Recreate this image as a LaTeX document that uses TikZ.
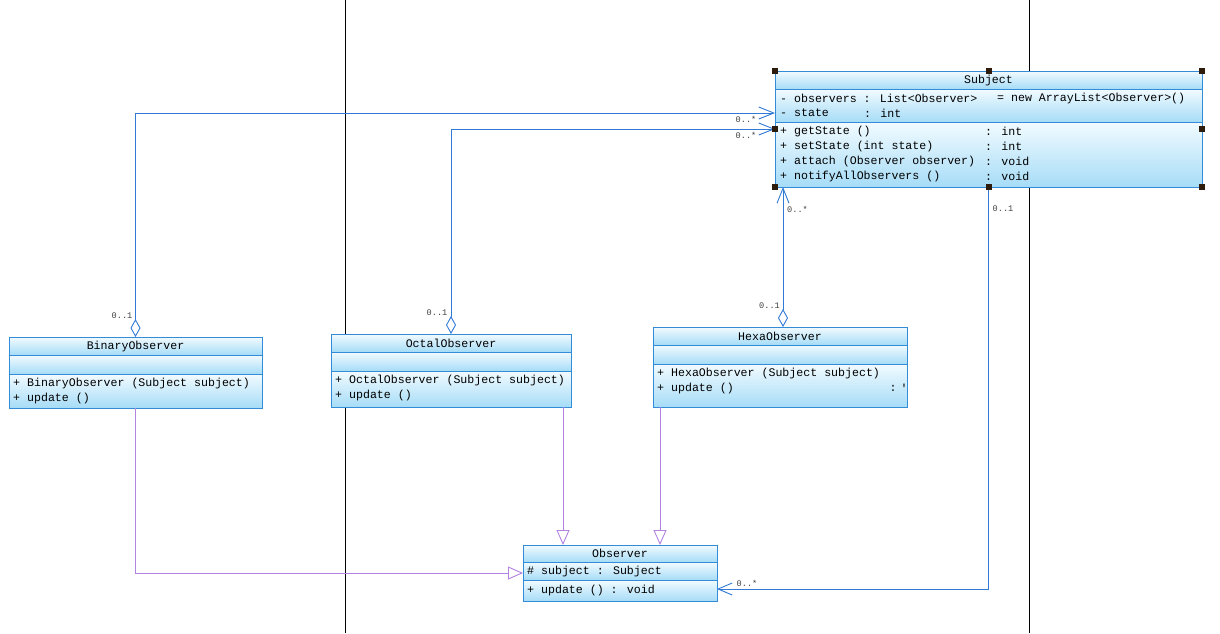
\documentclass[tikz,border=0pt]{standalone}
\usepackage{fontspec}
\newfontfamily\umlmono{Liberation Mono}
\usetikzlibrary{arrows.meta}
\definecolor{boxline}{RGB}{52,140,214}
\definecolor{conn}{RGB}{48,122,214}
\definecolor{genc}{RGB}{178,132,226}
\definecolor{toptint}{RGB}{242,251,255}
\definecolor{bottint}{RGB}{166,220,247}
\definecolor{handle}{RGB}{45,28,12}
\tikzset{
  txt/.style={font=\umlmono\fontsize{11.6}{12}\selectfont, inner sep=0pt, anchor=west},
  ttl/.style={font=\umlmono\fontsize{11.6}{12}\selectfont, inner sep=0pt},
  mult/.style={font=\umlmono\fontsize{8.6}{9}\selectfont, inner sep=0pt, text=black!75},
  assoc/.style={draw=conn, line width=0.9pt},
  gen/.style={draw=genc, line width=0.9pt, -{Triangle[open,fill=white,length=15pt,width=13pt]}},
  aggtip/.style={{Diamond[open,fill=white,length=18pt,width=10pt]}-{Straight Barb[length=15pt,width=12pt]}},
  navtip/.style={-{Straight Barb[length=14pt,width=12pt]}},
  sep/.style={draw=boxline, line width=0.9pt},
}
\newcommand\umlbox[7]{%
  \shade[top color=toptint,bottom color=bottint] (#2,#3) rectangle ++(#4,#5);
  \shade[top color=toptint,bottom color=bottint] (#2,{#3+#5}) rectangle ++(#4,#6);
  \shade[top color=toptint,bottom color=bottint] (#2,{#3+#5+#6}) rectangle ++(#4,#7);
  \draw[sep] (#2,{#3+#5}) -- ++(#4,0);
  \draw[sep] (#2,{#3+#5+#6}) -- ++(#4,0);
  \node[draw=boxline, line width=0.9pt, inner sep=0pt, outer sep=0pt,
        minimum width=#4pt, minimum height={#5+#6+#7}, anchor=north west] (#1) at (#2,#3) {};
}
\begin{document}
\begin{tikzpicture}[x=1pt,y=-1pt]
\useasboundingbox (0,0) rectangle (1220,633);
\fill[white] (0,0) rectangle (1220,633);
% background vertical lines
\draw[black, line width=0.9pt] (345,0) -- (345,633);
\draw[black, line width=0.9pt] (1029,0) -- (1029,633);

% Subject
\umlbox{subj}{775}{71}{427}{18}{33}{65}
\node[ttl] (subjt) at (988.5,80) {Subject};
\node[txt] (sa1) at (780,98) {- observers : List<Observer>};
\node[txt] (sa1b) at (997,98) {= new ArrayList<Observer>()};
\node[txt] (sa2) at (780,113) {- state};
\node[txt] (sa2c) at (864,113) {: int};
\node[txt] (sm1) at (780,131) {+ getState ()};
\node[txt] (sm2) at (780,146) {+ setState (int state)};
\node[txt] (sm3) at (780,161) {+ attach (Observer observer)};
\node[txt] (sm4) at (780,176) {+ notifyAllObservers ()};
\node[txt] (sm1c) at (985,131) {: int};
\node[txt] (sm2c) at (985,146) {: int};
\node[txt] (sm3c) at (985,161) {: void};
\node[txt] (sm4c) at (985,176) {: void};

% BinaryObserver
\umlbox{bin}{9}{337}{253}{18}{19}{34}
\node[ttl] (bint) at (135.5,346) {BinaryObserver};
\node[txt] (bm1) at (13,383) {+ BinaryObserver (Subject subject)};
\node[txt] (bm2) at (13,398) {+ update ()};

% OctalObserver
\umlbox{oct}{331}{334}{240}{18}{19}{36}
\node[ttl] (octt) at (451,343) {OctalObserver};
\node[txt] (om1) at (335,380) {+ OctalObserver (Subject subject)};
\node[txt] (om2) at (335,395) {+ update ()};

% HexaObserver
\umlbox{hexa}{653}{327}{254}{18}{19}{43}
\node[ttl] (hext) at (780,336) {HexaObserver};
\node[txt] (hm1) at (657,373) {+ HexaObserver (Subject subject)};
\node[txt] (hm2) at (657,388) {+ update ()};
\node[ttl] (hm2c) at (893,388) {:};
\node[ttl] (hm2t) at (904,388) {'};

% Observer
\umlbox{obs}{523}{545}{194}{17}{18}{21}
\node[ttl] (obst) at (620,553.5) {Observer};
\node[txt] (oa1) at (527,571.5) {\# subject : Subject};
\node[txt] (om) at (527,590.5) {+ update () : void};

% associations / aggregations
\draw[assoc, aggtip] (bin.north) |- ([yshift=-42pt]subj.north west);
\draw[assoc, aggtip] (oct.north) |- ([yshift=-58pt]subj.north west);
\draw[assoc, aggtip] ([xshift=3pt]hexa.north) -- ([xshift=8pt]subj.south west);
\draw[assoc, navtip] (subj.south) |- ([yshift=-16pt]obs.east);

% generalizations
\coordinate (xo1) at ([xshift=40pt]obs.north west);
\coordinate (xo2) at ([xshift=137pt]obs.north west);
\draw[gen] (bin.south) |- (obs.west);
\draw[gen] (oct.south -| xo1) -- (xo1);
\draw[gen] (hexa.south -| xo2) -- (xo2);

% multiplicities
\node[mult] at (122,316) {0..1};
\node[mult] at (746,119) {0..*};
\node[mult] at (437,313) {0..1};
\node[mult] at (746,135) {0..*};
\node[mult] at (769.5,306) {0..1};
\node[mult] at (797.5,209) {0..*};
\node[mult] at (1003,209) {0..1};
\node[mult] at (747,583) {0..*};

% selection handles
\foreach \a in {north west,north,north east,west,east,south west,south,south east}
  \fill[handle] ([xshift=-3pt,yshift=-3pt]subj.\a) rectangle ++(6pt,6pt);
\end{tikzpicture}
\end{document}
